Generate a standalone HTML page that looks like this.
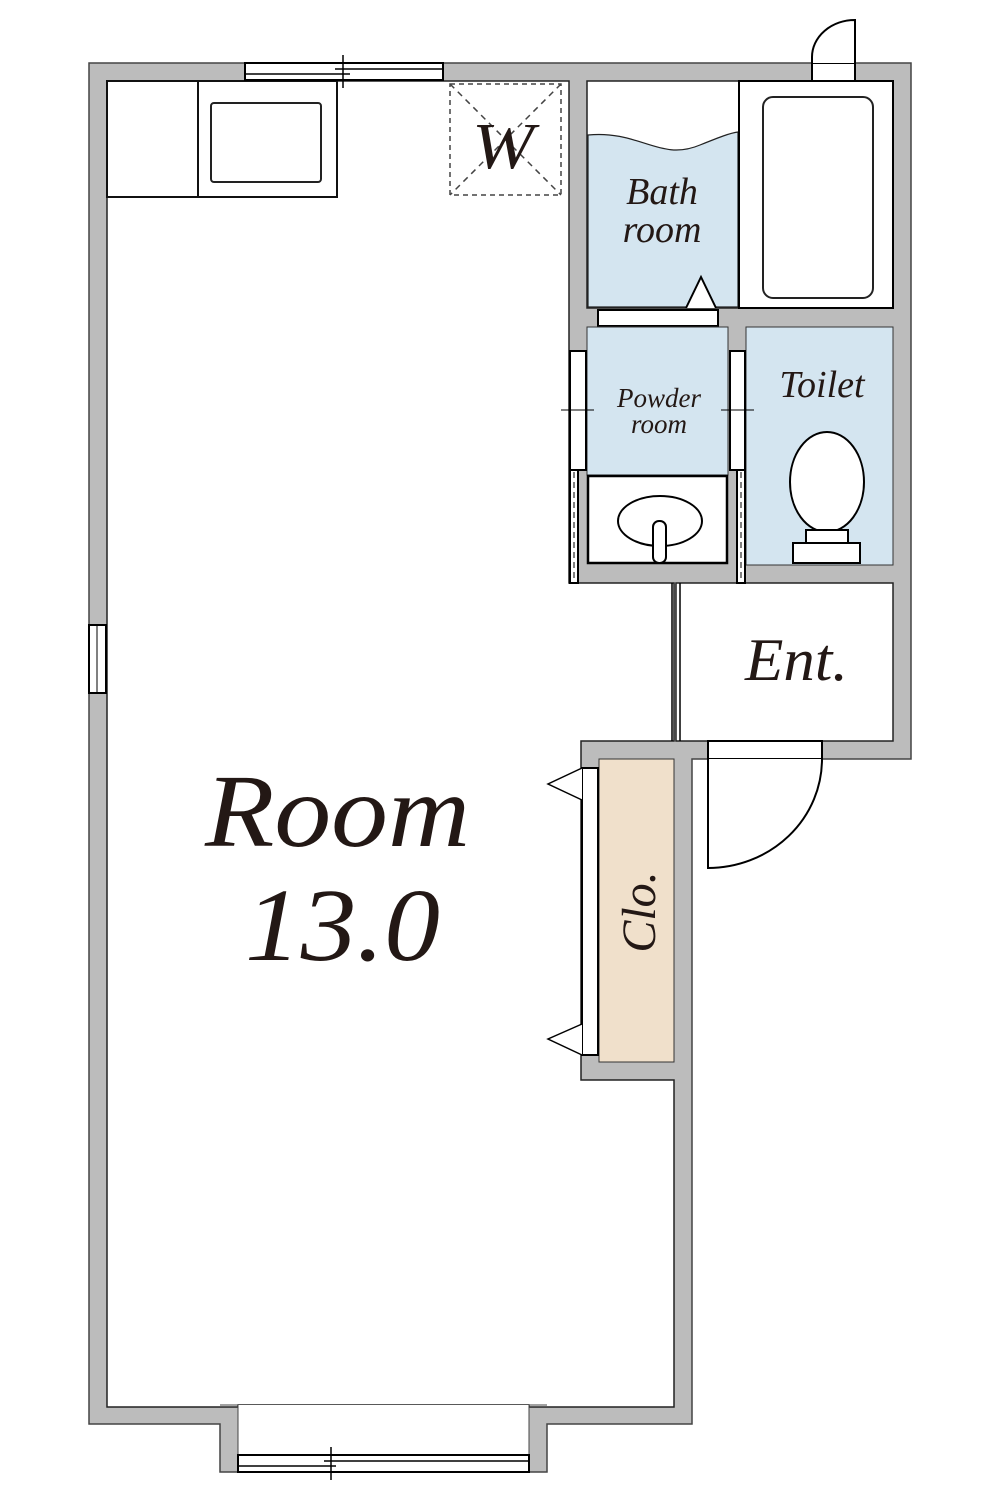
<!DOCTYPE html>
<html><head><style>body{margin:0;background:#fff}svg{display:block}text{font-family:"Liberation Serif",serif;font-style:italic;fill:#231815}</style></head><body>
<svg width="1000" height="1500" viewBox="0 0 1000 1500" xmlns="http://www.w3.org/2000/svg">
<g stroke="#444" stroke-width="1.5" fill="#bcbcbc">
<path d="M89 63 H911 V759 H692 V1424 H547 V1472 H220 V1424 H89 Z"/>
</g>
<g fill="#fff" stroke="#222" stroke-width="1.5">
<path d="M107 81 H569 V583 H674 V741 H581 V1080 H674 V1407 H529 V1405 H238 V1407 H107 Z"/>
<rect x="676" y="583" width="217" height="158"/>
</g>
<rect x="238" y="1405" width="291" height="50" fill="#fff"/>
<line x1="238" y1="1405" x2="238" y2="1455" stroke="#444"/><line x1="529" y1="1405" x2="529" y2="1455" stroke="#444"/>
<line x1="220" y1="1405" x2="238" y2="1405" stroke="#444"/><line x1="529" y1="1405" x2="547" y2="1405" stroke="#444"/>
<rect x="599" y="759" width="75" height="303" fill="#f0e0cb" stroke="#333" stroke-width="1"/>
<rect x="582" y="768" width="16" height="287" fill="#fff" stroke="#000" stroke-width="2"/>
<path d="M582 768 L548 784 L582 800 M582 1024 L548 1039 L582 1055" fill="#fff" stroke="#000" stroke-width="1.5"/>
<text transform="translate(655,912) rotate(-90)" font-size="48" text-anchor="middle">Clo.</text>
<line x1="672" y1="583" x2="672" y2="741" stroke="#000" stroke-width="1.5"/><line x1="680" y1="583" x2="680" y2="741" stroke="#000" stroke-width="1.5"/>
<text x="745" y="680" font-size="60" textLength="103" lengthAdjust="spacingAndGlyphs">Ent.</text>
<rect x="708" y="741" width="114" height="18" fill="#fff" stroke="#000" stroke-width="2"/>
<path d="M708 759 V868 A114 109 0 0 0 822 759" fill="#fff" stroke="#000" stroke-width="2"/>
<rect x="587" y="81" width="152" height="227" fill="#fff" stroke="#222" stroke-width="1.5"/>
<path d="M588 135 C640 130 660 162 700 145 C720 137 730 133 738 132 V307 H588 Z" fill="#d4e5f0" stroke="#222" stroke-width="1.2"/>
<rect x="739" y="81" width="154" height="227" fill="#fff" stroke="#000" stroke-width="2"/>
<rect x="763" y="97" width="110" height="201" rx="10" fill="#fff" stroke="#222" stroke-width="2"/>
<text x="662" y="204" font-size="38" text-anchor="middle">Bath</text>
<text x="662" y="242" font-size="38" text-anchor="middle">room</text>
<rect x="598" y="310" width="120" height="16" fill="#fff" stroke="#000" stroke-width="2"/>
<path d="M686 308 L701 277 L716 308" fill="#fff" stroke="#000" stroke-width="2"/>
<rect x="587" y="327" width="141" height="148" fill="#d4e5f0" stroke="#333" stroke-width="1"/>
<rect x="588" y="476" width="139" height="87" fill="#fff" stroke="#000" stroke-width="2.5"/>
<ellipse cx="660" cy="521" rx="42" ry="25" fill="#fff" stroke="#000" stroke-width="2"/>
<rect x="653" y="521" width="13" height="42" rx="6" fill="#fff" stroke="#000" stroke-width="2"/>
<text x="659" y="407" font-size="27" text-anchor="middle">Powder</text>
<text x="659" y="433" font-size="27" text-anchor="middle">room</text>
<rect x="746" y="327" width="147" height="238" fill="#d4e5f0" stroke="#333" stroke-width="1"/>
<ellipse cx="827" cy="482" rx="37" ry="50" fill="#fff" stroke="#000" stroke-width="2"/>
<rect x="806" y="530" width="42" height="13" fill="#fff" stroke="#000" stroke-width="2"/>
<rect x="793" y="543" width="67" height="20" fill="#fff" stroke="#000" stroke-width="2"/>
<text x="822" y="397" font-size="38" text-anchor="middle">Toilet</text>
<g fill="#fff" stroke="#000" stroke-width="2">
<rect x="570" y="351" width="16" height="119"/><rect x="730" y="351" width="15" height="119"/>
<rect x="570" y="470" width="8" height="113"/><rect x="737" y="470" width="8" height="113"/>
</g>
<g stroke="#000" stroke-width="1" stroke-dasharray="6,4"><line x1="574" y1="472" x2="574" y2="582"/><line x1="741" y1="472" x2="741" y2="582"/></g>
<g stroke="#000" stroke-width="1"><line x1="561" y1="410" x2="594" y2="410"/><line x1="721" y1="410" x2="754" y2="410"/></g>
<rect x="812" y="63" width="43" height="18" fill="#fff" stroke="#000" stroke-width="2"/>
<path d="M812 63 V57 A43 37 0 0 1 855 20 V63" fill="#fff" stroke="#000" stroke-width="2"/>
<rect x="107" y="81" width="230" height="116" fill="#fff" stroke="#111" stroke-width="2"/>
<line x1="198" y1="81" x2="198" y2="197" stroke="#111" stroke-width="2"/>
<rect x="211" y="103" width="110" height="79" rx="3" fill="#fff" stroke="#222" stroke-width="2"/>
<rect x="450" y="84" width="111" height="111" fill="none" stroke="#444" stroke-width="1.5" stroke-dasharray="5,4"/>
<path d="M450 84 L561 195 M561 84 L450 195" stroke="#444" stroke-width="1.5" stroke-dasharray="6,5"/>
<text x="472" y="168" font-size="66" textLength="62" lengthAdjust="spacingAndGlyphs">W</text>
<rect x="245" y="63" width="198" height="17" fill="#fff" stroke="#000" stroke-width="2"/>
<line x1="246" y1="74" x2="350" y2="74" stroke="#000" stroke-width="1.5"/><line x1="335" y1="69" x2="442" y2="69" stroke="#000" stroke-width="1.5"/>
<line x1="343" y1="55" x2="343" y2="88" stroke="#000" stroke-width="1.5"/>
<rect x="89" y="625" width="17" height="68" fill="#fff" stroke="#000" stroke-width="2"/>
<line x1="97" y1="625" x2="97" y2="693" stroke="#000" stroke-width="1"/>
<rect x="238" y="1455" width="291" height="17" fill="#fff" stroke="#000" stroke-width="2"/>
<line x1="239" y1="1466" x2="336" y2="1466" stroke="#000" stroke-width="1.5"/><line x1="324" y1="1461" x2="528" y2="1461" stroke="#000" stroke-width="1.5"/>
<line x1="331" y1="1447" x2="331" y2="1480" stroke="#000" stroke-width="1.5"/>
<text x="205" y="846" font-size="104" textLength="265" lengthAdjust="spacingAndGlyphs">Room</text>
<text x="245" y="960" font-size="104" textLength="195" lengthAdjust="spacingAndGlyphs">13.0</text>
</svg>
</body></html>
